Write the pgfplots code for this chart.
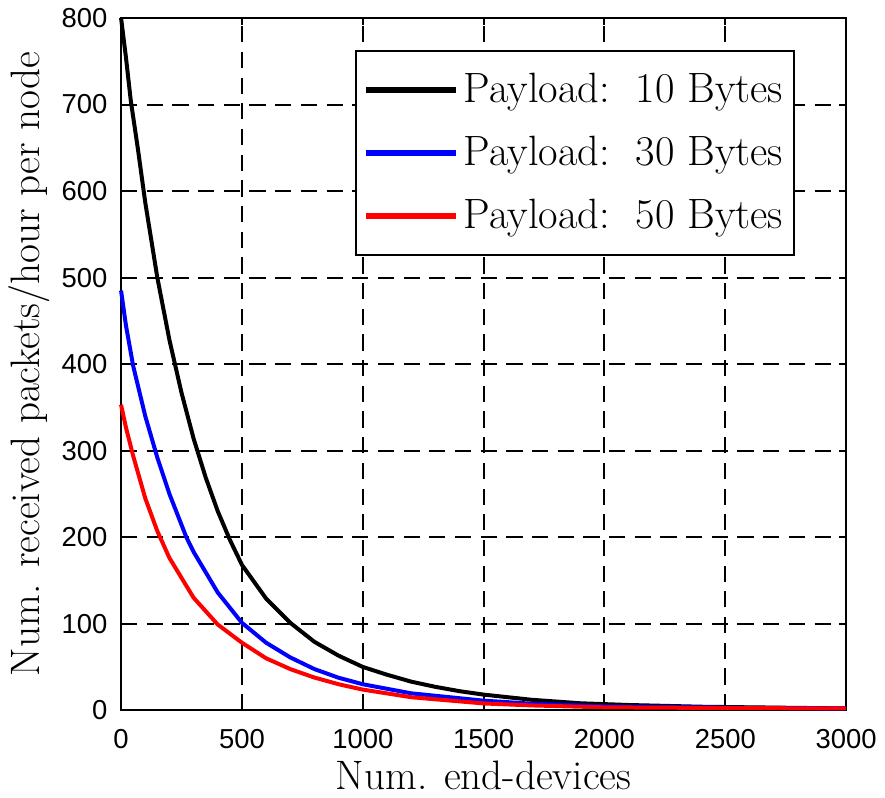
\documentclass[border=0pt]{standalone}
\usepackage{fontspec}
\usepackage{pgfplots}
\pgfplotsset{compat=1.18}
\newfontfamily\tickfont{Liberation Sans}

\begin{document}
\begin{tikzpicture}
\begin{axis}[
    scale only axis,
    width=290.8pt,
    height=277.6pt,
    xmin=0, xmax=3000,
    ymin=0, ymax=800,
    xtick={0,500,...,3000},
    ytick={0,100,...,800},
    scaled x ticks=false,
    /pgf/number format/1000 sep={},
    /pgf/number format/assume math mode=true,
    ticklabel style={font=\tickfont\fontsize{11}{13}\selectfont},
    yticklabel style={xshift=-2pt},
    xticklabel style={yshift=-4pt},
    tick align=inside,
    major tick length=3pt,
    tick style={black, line width=0.8pt},
    axis line style={line width=0.9pt},
    grid=major,
    major grid style={black, line width=0.8pt, dash pattern=on 6.5pt off 3.8pt},
    xlabel={Num. end-devices},
    ylabel={Num. received packets/hour per node},
    label style={font=\fontsize{16.5}{19}\selectfont},
    xlabel style={yshift=2pt},
    ylabel style={yshift=-2pt},
    legend style={
        at={(0.93,0.954)}, anchor=north east,
        draw=black, line width=0.9pt,
        font=\fontsize{17}{20}\selectfont,
        row sep=8pt,
        inner xsep=2.5pt, inner ysep=7pt,
        cells={anchor=west},
    },
    legend image code/.code={
        \draw[#1, line width=2.6pt] (0pt,0pt) -- (36pt,0pt);
    },
    clip=false,
]

\addplot[black, line width=1.6pt] coordinates {
    (0,800) (20,755) (40,705) (70,648) (100,587) (150,500) (200,428)
    (250,367) (300,314) (350,269) (400,230) (450,197) (500,168) (600,129)
    (700,101) (800,79) (900,63) (1000,50) (1100,41) (1200,33) (1300,27)
    (1400,22) (1500,18) (1700,12) (1900,8) (2100,6) (2400,4) (2700,3)
    (3000,2)
};
\addlegendentry{Payload:\ \ 10 Bytes}

\addplot[blue, line width=1.6pt] coordinates {
    (0,485) (20,445) (50,398) (100,340) (150,292) (200,250) (270,200)
    (300,183) (400,136) (500,101) (600,78) (700,61) (800,47.5) (900,37.5)
    (1000,30) (1200,19.5) (1500,11) (1700,7.5) (2000,4.5) (2500,3) (3000,2)
};
\addlegendentry{Payload:\ \ 30 Bytes}

\addplot[red, line width=1.6pt] coordinates {
    (0,353) (20,327) (50,294) (100,245) (150,207) (200,176) (300,130)
    (400,99) (500,78) (600,60) (700,47.5) (800,37.7) (900,30) (1000,23.8)
    (1200,15) (1500,7.8) (1700,5.5) (2000,3.3) (2500,2.5) (3000,2)
};
\addlegendentry{Payload:\ \ 50 Bytes}

\end{axis}
\end{tikzpicture}
\end{document}
